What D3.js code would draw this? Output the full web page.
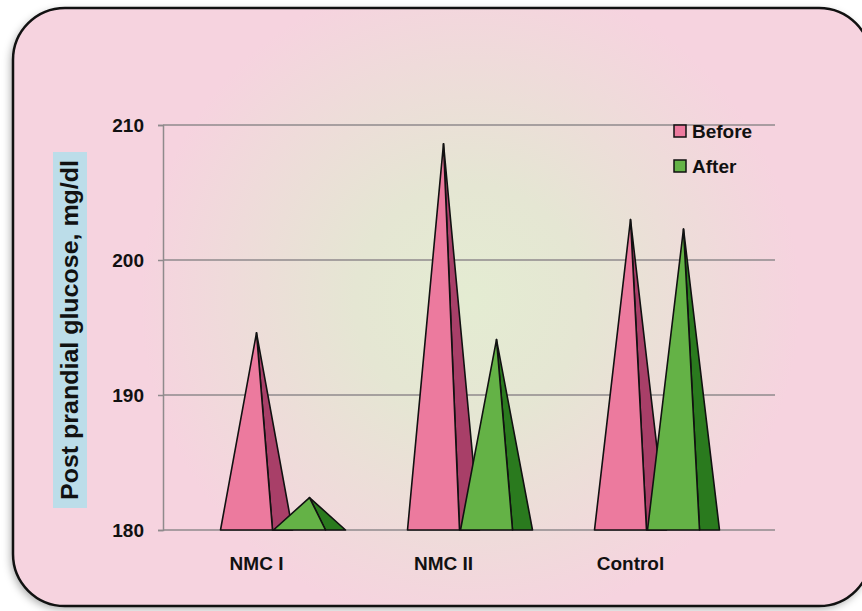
<!DOCTYPE html>
<html>
<head>
<meta charset="utf-8">
<script src="https://cdn.jsdelivr.net/npm/d3@7"></script>
<style>
  body { margin: 0; background: #fff; }
  svg { display: block; }
  text { font-family: "Liberation Sans", Arial, sans-serif; font-weight: bold; fill: #111; }
</style>
</head>
<body>
<div class="vis-chart"></div>
<script>
// data
var categories = ["NMC I", "NMC II", "Control"];
var seriesNames = ["Before", "After"];
var beforeValues = [194.6, 208.6, 203.0];
var afterValues = [182.4, 194.1, 202.3];
var yTicks = [180, 190, 200, 210];

var width = 862, height = 611;

var svg = d3.select(".vis-chart")
  .append("svg")
    .attr("width", width)
    .attr("height", height);

var defs = svg.append("defs");

var glow = defs.append("radialGradient")
    .attr("id", "bgGlow")
    .attr("gradientUnits", "userSpaceOnUse")
    .attr("cx", 470).attr("cy", 300).attr("r", 330);
glow.append("stop").attr("offset", "0%").attr("stop-color", "#e4ecd2");
glow.append("stop").attr("offset", "35%").attr("stop-color", "#e5e6d3");
glow.append("stop").attr("offset", "100%").attr("stop-color", "#f6d3df");

var shadow = defs.append("filter").attr("id", "shadow")
    .attr("x", "-10%").attr("y", "-10%").attr("width", "120%").attr("height", "120%");
shadow.append("feDropShadow")
    .attr("dx", -2).attr("dy", 3).attr("stdDeviation", 4)
    .attr("flood-color", "#000").attr("flood-opacity", 0.35);

// frame
svg.append("rect")
    .attr("x", 13).attr("y", 8)
    .attr("width", 858).attr("height", 598)
    .attr("rx", 52).attr("ry", 52)
    .attr("fill", "#f6d3df")
    .attr("filter", "url(#shadow)");
svg.append("rect")
    .attr("x", 13).attr("y", 8)
    .attr("width", 858).attr("height", 598)
    .attr("rx", 52).attr("ry", 52)
    .attr("fill", "url(#bgGlow)")
    .attr("stroke", "#111")
    .attr("stroke-width", 2.5);

// scales
var x = d3.scaleBand()
  .domain(categories)
  .range([163, 724]);

var y = d3.scaleLinear()
  .domain([180, 210])
  .range([530, 125]);

var plotRight = 775;

// gridlines
svg.append("g")
  .selectAll("line")
  .data(yTicks)
  .enter()
  .append("line")
    .attr("x1", 163).attr("x2", plotRight)
    .attr("y1", function (d) { return y(d); })
    .attr("y2", function (d) { return y(d); })
    .attr("stroke", "#8f8a8c")
    .attr("stroke-width", 1.5);

// y axis
var yAxis = svg.append("g")
    .attr("transform", "translate(163,0)")
    .call(d3.axisLeft(y).tickValues(yTicks).tickSize(5).tickPadding(14).tickFormat(d3.format("d")));
yAxis.select(".domain").attr("stroke", "#8f8a8c").attr("stroke-width", 1.5);
yAxis.selectAll(".tick line").attr("stroke", "#8f8a8c").attr("stroke-width", 1.5);
yAxis.selectAll("text")
    .attr("font-size", 19)
    .attr("font-family", "Liberation Sans, Arial, sans-serif")
    .attr("font-weight", "bold")
    .attr("fill", "#111");

// x labels
svg.append("g")
  .selectAll("text")
  .data(categories)
  .enter()
  .append("text")
    .attr("x", function (d) { return x(d) + x.bandwidth() / 2; })
    .attr("y", 570)
    .attr("text-anchor", "middle")
    .attr("font-size", 19)
    .text(function (d) { return d; });

// pyramids: front face + dark side face
var colors = {
  Before: { front: "#ec7a9e", side: "#a83f68" },
  After: { front: "#64b246", side: "#2a7a1e" }
};
var halfFoot = 36, frontRight = 16, seriesShift = 53;

var rows = [];
categories.forEach(function (c, i) {
  rows.push({ cat: c, series: "Before", value: beforeValues[i], shift: 0 });
  rows.push({ cat: c, series: "After", value: afterValues[i], shift: seriesShift });
});

var peaks = svg.append("g")
  .selectAll("g")
  .data(rows)
  .enter()
  .append("g");

function apexX(d) { return x(d.cat) + x.bandwidth() / 2 + d.shift; }

peaks.append("path")
    .attr("d", function (d) {
      var cx = apexX(d), b = y(180), t = y(d.value);
      return "M" + (cx + frontRight) + "," + b + "L" + cx + "," + t + "L" + (cx + halfFoot) + "," + b + "Z";
    })
    .attr("fill", function (d) { return colors[d.series].side; })
    .attr("stroke", "#111")
    .attr("stroke-width", 1.6)
    .attr("stroke-linejoin", "round");

peaks.append("path")
    .attr("d", function (d) {
      var cx = apexX(d), b = y(180), t = y(d.value);
      return "M" + (cx - halfFoot) + "," + b + "L" + cx + "," + t + "L" + (cx + frontRight) + "," + b + "Z";
    })
    .attr("fill", function (d) { return colors[d.series].front; })
    .attr("stroke", "#111")
    .attr("stroke-width", 1.6)
    .attr("stroke-linejoin", "round");

// y title with blue box
var titleG = svg.append("g").attr("transform", "translate(70,330) rotate(-90)");
titleG.append("rect")
    .attr("x", -178).attr("y", -17)
    .attr("width", 356).attr("height", 34)
    .attr("fill", "#bcdde9");
titleG.append("text")
    .attr("x", 0).attr("y", 8)
    .attr("text-anchor", "middle")
    .attr("font-size", 23)
    .attr("textLength", 340)
    .attr("lengthAdjust", "spacingAndGlyphs")
    .text("Post prandial glucose, mg/dl");

// legend
var legend = svg.append("g")
  .selectAll("g")
  .data(seriesNames)
  .enter()
  .append("g")
    .attr("transform", function (d, i) { return "translate(674," + (125 + i * 35) + ")"; });
legend.append("rect")
    .attr("width", 12).attr("height", 12)
    .attr("fill", function (d) { return colors[d].front; })
    .attr("stroke", "#111")
    .attr("stroke-width", 1.5);
legend.append("text")
    .attr("x", 18).attr("y", 13)
    .attr("font-size", 19)
    .text(function (d) { return d; });
</script>
</body>
</html>
